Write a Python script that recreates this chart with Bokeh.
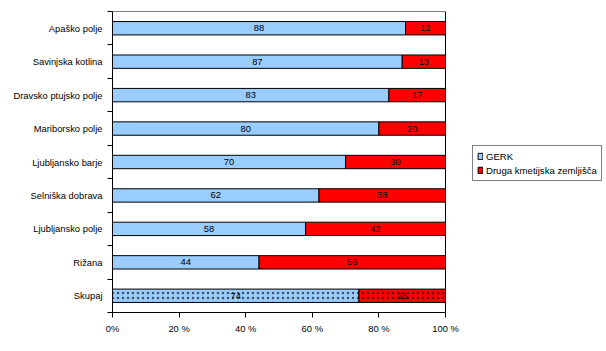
from bokeh.plotting import figure
from bokeh.models import (ColumnDataSource, FixedTicker, Range1d, Legend, LegendItem)
from bokeh.core.properties import value
from bokeh.embed import file_html
from bokeh.resources import INLINE

categories = ["Skupaj", "Rižana", "Ljubljansko polje", "Selniška dobrava",
              "Ljubljansko barje", "Mariborsko polje", "Dravsko ptujsko polje",
              "Savinjska kotlina", "Apaško polje"]
gerk = [74, 44, 58, 62, 70, 80, 83, 87, 88]
druga = [26, 56, 42, 38, 30, 20, 17, 13, 12]
x_ticks = [0, 20, 40, 60, 80, 100]
x_tick_labels = ["0%", "20 %", "40 %", "60 %", "80 %", "100 %"]
series_names = ["GERK", "Druga kmetijska zemljišča"]

FONT = "Liberation Sans"
FS = "9.4px"
BLUE = "#99CCFF"
RED = "#FF0000"

n = len(categories)
ypos = [i + 0.5 for i in range(n)]
left2 = gerk
right2 = [g + d for g, d in zip(gerk, druga)]
mid1 = [g / 2 for g in gerk]
mid2 = [g + d / 2 for g, d in zip(gerk, druga)]

src = ColumnDataSource(dict(y=ypos[1:], g=gerk[1:], l2=left2[1:], r2=right2[1:],
                            m1=mid1[1:], m2=mid2[1:],
                            t1=[str(v) for v in gerk[1:]], t2=[str(v) for v in druga[1:]]))
tot = ColumnDataSource(dict(y=ypos[:1], g=gerk[:1], l2=left2[:1], r2=right2[:1],
                            m1=mid1[:1], m2=mid2[:1],
                            t1=[str(v) for v in gerk[:1]], t2=[str(v) for v in druga[:1]]))

# plot frame spans 112..604 px; the 0-100 % scale occupies 112..445 px
LEFT_PX, AXIS_END_PX, FRAME_END_PX = 112, 445, 604
x_end = 100 * (FRAME_END_PX - LEFT_PX) / (AXIS_END_PX - LEFT_PX)

p = figure(width=606, height=351, output_backend="svg", toolbar_location=None,
           x_range=Range1d(0, x_end), y_range=Range1d(0, n),
           min_border_left=LEFT_PX, min_border_right=606 - FRAME_END_PX,
           min_border_top=11, min_border_bottom=39)
p.background_fill_color = "white"
p.border_fill_color = "white"
p.outline_line_color = None
p.xgrid.visible = False
p.ygrid.visible = False

# top and right borders of the plot area
p.segment(x0=[0, 100], y0=[n, 0], x1=[100, 100], y1=[n, n], line_color="black",
          line_width=1)

h = 0.4
r1 = p.hbar(y="y", left=0, right="g", height=h, source=src, fill_color=BLUE,
            line_color="black", line_width=1)
r2 = p.hbar(y="y", left="l2", right="r2", height=h, source=src, fill_color=RED,
            line_color="black", line_width=1)
p.hbar(y="y", left=0, right="g", height=h, source=tot, fill_color=BLUE,
       line_color="black", line_width=1, hatch_pattern="dot", hatch_color="black",
       hatch_scale=5, hatch_weight=0.5, hatch_alpha=0.6)
p.hbar(y="y", left="l2", right="r2", height=h, source=tot, fill_color=RED,
       line_color="black", line_width=1, hatch_pattern="dot", hatch_color="black",
       hatch_scale=5, hatch_weight=0.5, hatch_alpha=0.6)

for s in (src, tot):
    p.text(x="m1", y="y", text="t1", source=s, text_align="center",
           text_baseline="middle", text_font=value(FONT), text_font_size=FS,
           text_color="black")
    p.text(x="m2", y="y", text="t2", source=s, text_align="center",
           text_baseline="middle", text_font=value(FONT), text_font_size=FS,
           text_color="black")

# y axis
p.yaxis.ticker = FixedTicker(ticks=ypos, minor_ticks=list(range(n + 1)))
p.yaxis.major_label_overrides = {y: c for y, c in zip(ypos, categories)}
p.yaxis.major_tick_out = 0
p.yaxis.major_tick_in = 0
p.yaxis.minor_tick_out = 5
p.yaxis.minor_tick_in = 0
p.yaxis.minor_tick_line_color = "black"
p.yaxis.axis_line_color = "black"
p.yaxis.major_label_text_font = FONT
p.yaxis.major_label_text_font_size = FS
p.yaxis.major_label_text_color = "black"
p.yaxis.major_label_standoff = 5

# x axis
p.xaxis.ticker = FixedTicker(ticks=x_ticks, minor_ticks=[])
p.xaxis.bounds = (0, 100)
p.xaxis.major_label_overrides = {t: l for t, l in zip(x_ticks, x_tick_labels)}
p.xaxis.major_tick_out = 5
p.xaxis.major_tick_in = 0
p.xaxis.major_tick_line_color = "black"
p.xaxis.axis_line_color = "black"
p.xaxis.major_label_text_font = FONT
p.xaxis.major_label_text_font_size = FS
p.xaxis.major_label_text_color = "black"
p.xaxis.major_label_standoff = 5

legend = Legend(items=[LegendItem(label=series_names[0], renderers=[r1]),
                       LegendItem(label=series_names[1], renderers=[r2])],
                location=(360, 131))
legend.border_line_color = "black"
legend.border_line_width = 1
legend.background_fill_color = "white"
legend.label_text_font = FONT
legend.label_text_font_size = "9.6px"
legend.label_text_color = "black"
legend.glyph_width = 6
legend.glyph_height = 8
legend.label_standoff = 3
legend.spacing = 2
legend.padding = 4
legend.margin = 0
legend.label_height = 12
p.add_layout(legend, "center")

open("out.html", "w").write(file_html(p, INLINE))
